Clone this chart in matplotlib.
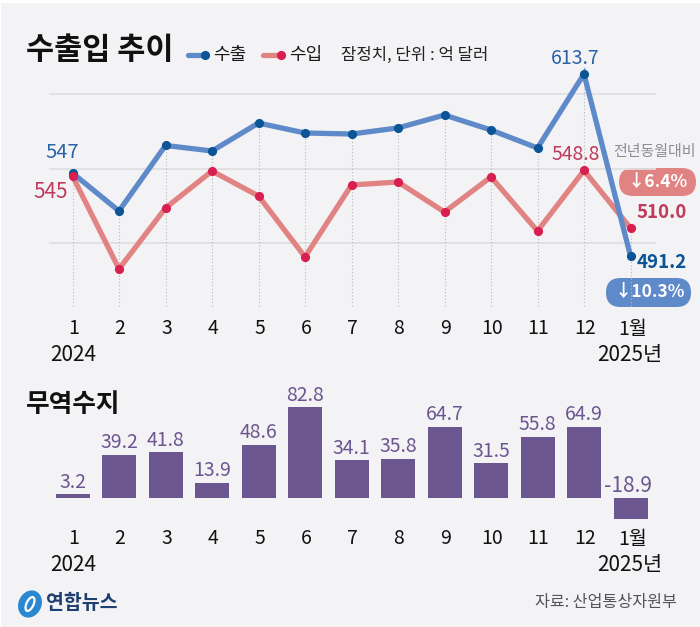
#!/usr/bin/env python3
"""Korea exports / imports trend and trade balance, Jan 2024 - Jan 2025."""

import matplotlib
matplotlib.use("Agg")
import matplotlib.pyplot as plt   # noqa: E402
from matplotlib.patches import Ellipse, FancyBboxPatch, Rectangle   # noqa: E402

plt.rcParams["font.family"] = ["Noto Sans CJK KR", "DejaVu Sans"]

MONTHS = ["1", "2", "3", "4", "5", "6", "7", "8", "9", "10", "11", "12", "1월"]
EXPORTS = [547, 521.5, 565.6, 561.9, 580.7, 574, 573.3, 577.4, 586.1, 576, 563.9, 613.7, 491.2]
IMPORTS = [545, 482.5, 523.5, 548.4, 531.6, 490.6, 539, 541, 520.8, 544.4, 508, 548.8, 510.0]
BALANCE = [3.2, 39.2, 41.8, 13.9, 48.6, 82.8, 34.1, 35.8, 64.7, 31.5, 55.8, 64.9, -18.9]
GRID_VALUES = [500, 550, 600]

W, H = 700, 627
BG = "#f3f3f5"
BLUE_LINE = "#5f8ac9"
BLUE_DOT = "#0b5596"
BLUE_TEXT = "#2a62a8"
RED_LINE = "#e28383"
RED_DOT = "#d81f50"
RED_TEXT = "#bf3a5c"
PURPLE = "#6b5690"
X0, STEP = 72.5, 46.5


def axes_px(fig, left, top, right, bottom, **kw):
    # axes placed by reference pixel box
    ax = fig.add_axes([left / W, 1 - bottom / H, (right - left) / W, (bottom - top) / H], **kw)
    ax.axis("off")
    ax.patch.set_alpha(0)
    return ax


def pill(canvas, left, top, right, bottom, color):
    r = (bottom - top) / 2
    canvas.add_patch(FancyBboxPatch((left + r, top + r), right - left - 2 * r, 0,
                                    boxstyle=f"round,pad={r},rounding_size={r}",
                                    fc=color, ec="none", lw=0, zorder=5))


def month_labels(canvas, y1, y2):
    for i, m in enumerate(MONTHS):
        canvas.text(X0 + i * STEP + (2 if i == 12 else 1), y1, m, fontsize=14, color="#111111",
                    ha="center", va="center")
    canvas.text(73, y2, "2024", fontsize=15, color="#111111", ha="center", va="center")
    canvas.text(630, y2, "2025년", fontsize=15, color="#111111", ha="center", va="center")


def main():
    fig = plt.figure(figsize=(W / 100, H / 100), dpi=100, facecolor="white")

    # pixel canvas for text and decorations
    canvas = axes_px(fig, 0, 0, W, H)
    canvas.set_xlim(0, W)
    canvas.set_ylim(H, 0)
    canvas.add_patch(Rectangle((1, 3), W - 1, H - 3, fc=BG, ec="none", zorder=0))

    # line chart, x in month index, y in 억 달러
    ax = axes_px(fig, X0 - STEP, 74 - 13.0, X0 + 13 * STEP, 256 + 52.0)
    y_scale = (256 - 74) / (613.7 - 491.2)
    ax.set_xlim(-1, 13)
    ax.set_ylim(491.2 - 52 / y_scale, 613.7 + 13 / y_scale)
    y_bottom = ax.get_ylim()[0]
    for v in GRID_VALUES:
        ax.plot([-0.48, 12.52], [v, v], color="#e0e0e3", lw=1.3, zorder=1)
    for i, v in enumerate(EXPORTS):
        ax.plot([i, i], [y_bottom + 1.5, max(v, IMPORTS[i])], color="#b9b9bd", lw=0.8,
                ls=(0, (1, 2)), zorder=1.5)
    xs = list(range(len(MONTHS)))
    ax.plot(xs, IMPORTS, color=RED_LINE, lw=3.8, solid_joinstyle="miter", zorder=2)
    ax.plot(xs, EXPORTS, color=BLUE_LINE, lw=3.8, solid_joinstyle="miter", zorder=3)
    ax.plot(xs, EXPORTS, ls="none", marker="o", ms=6.6, mfc=BLUE_DOT, mec="none", zorder=4)
    ax.plot(xs, IMPORTS, ls="none", marker="o", ms=6.6, mfc=RED_DOT, mec="none", zorder=4)

    # title + legend
    canvas.text(26, 50, "수출입 추이", fontsize=22, fontweight="bold", color="#111111", va="center")
    canvas.plot([188, 203], [55, 55], color=BLUE_LINE, lw=3.8, solid_capstyle="round")
    canvas.plot([205], [54.5], marker="o", ms=6.6, mfc=BLUE_DOT, mec="none")
    canvas.text(213, 55, "수출", fontsize=13, color="#1a1a1a", va="center")
    canvas.plot([263, 278], [55, 55], color=RED_LINE, lw=3.8, solid_capstyle="round")
    canvas.plot([281], [54.5], marker="o", ms=6.6, mfc=RED_DOT, mec="none")
    canvas.text(289, 55, "수입", fontsize=13, color="#1a1a1a", va="center")
    canvas.text(341, 55, "잠정치, 단위 : 억 달러", fontsize=12, color="#222222", va="center")

    # value labels on the line chart
    canvas.text(62, 152, "547", fontsize=14.5, color=BLUE_TEXT, ha="center", va="center")
    canvas.text(51, 192, "545", fontsize=15, color=RED_TEXT, ha="center", va="center")
    canvas.text(575, 58, "613.7", fontsize=14, color=BLUE_TEXT, ha="center", va="center")
    canvas.text(576, 155, "548.8", fontsize=14, color=RED_TEXT, ha="center", va="center")
    canvas.text(654, 152, "전년동월대비", fontsize=10.8, color="#8d8d90", ha="center", va="center")
    pill(canvas, 619, 168, 696, 196, RED_LINE)
    canvas.text(658, 182, "↓6.4%", fontsize=12.5, fontweight="bold", color="white",
                ha="center", va="center", zorder=6)
    canvas.text(662, 213, "510.0", fontsize=13.5, fontweight="bold", color=RED_TEXT,
                ha="center", va="center")
    canvas.text(662, 263, "491.2", fontsize=13.5, fontweight="bold", color=BLUE_DOT,
                ha="center", va="center")
    pill(canvas, 606, 278, 691, 307, BLUE_LINE)
    canvas.text(650, 292, "↓10.3%", fontsize=12.5, fontweight="bold", color="white",
                ha="center", va="center", zorder=6)
    month_labels(canvas, 329, 355)

    # balance bars
    canvas.text(26, 405, "무역수지", fontsize=18.5, fontweight="bold", color="#111111", va="center")
    bx = axes_px(fig, X0 - STEP, 400, X0 + 13 * STEP, 530)
    bx.set_xlim(-1, 13)
    bx.set_ylim((498 - 530) / 1.1, (498 - 400) / 1.1)
    bx.bar(xs, BALANCE, width=34 / STEP, color=PURPLE, zorder=2)
    for i, v in enumerate(BALANCE):
        bx.annotate(f"{v:.1f}", (i - 0.06 if v < 0 else i, max(v, 0)), xytext=(0, 1),
                    textcoords="offset points", ha="center", va="bottom",
                    fontsize=15 if v < 0 else 14, color=PURPLE, zorder=3)
    month_labels(canvas, 539, 565)

    # footer
    canvas.add_patch(Ellipse((30, 604), 23, 28, angle=25, fc="#2a87d0", ec="none", zorder=2))
    canvas.add_patch(Ellipse((30, 604), 7, 15, angle=25, fc="none", ec="white", lw=1.6, zorder=3))
    canvas.text(46, 603, "연합뉴스", fontsize=14, fontweight="bold", color="#1f3f70", va="center")
    canvas.text(677, 603, "자료: 산업통상자원부", fontsize=11.6, color="#555558", ha="right", va="center")

    fig.savefig("out.png", dpi=100, facecolor="white")
    plt.close(fig)


if __name__ == "__main__":
    main()
